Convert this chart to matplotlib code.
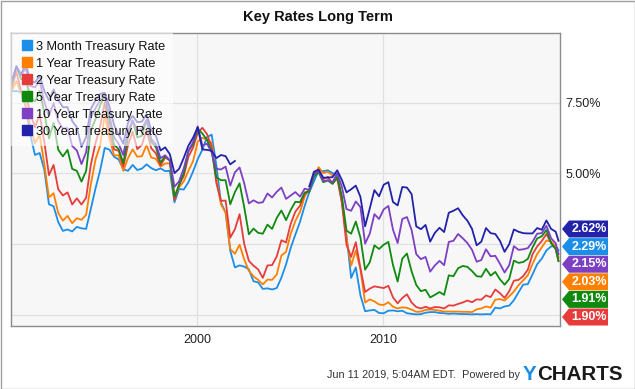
import matplotlib
matplotlib.use("Agg")
import matplotlib.pyplot as plt
from matplotlib.lines import Line2D
from matplotlib.patches import Polygon, Rectangle
from matplotlib.transforms import IdentityTransform
import numpy as np

plt.rcParams['font.family'] = ['Liberation Sans', 'DejaVu Sans']

# ---------------- data (quarterly readings, Jan/Apr/Jul/Oct, plus Jun 2019) ----------------
years = list(range(1990, 2019))
dates = [y + q for y in years for q in (0.04, 0.29, 0.54, 0.79)] + [2019.04, 2019.29, 2019.44]

nan = float('nan')

t3m = [7.90, 7.91, 7.87, 7.36, 6.36, 5.65, 5.72, 5.14, 3.91, 3.84, 3.28, 2.97,
       3.02, 2.95, 3.11, 3.06, 3.04, 3.74, 4.46, 5.10, 5.90, 5.84, 5.59, 5.49,
       5.15, 5.09, 5.30, 5.12, 5.17, 5.32, 5.19, 5.11, 5.18, 5.08, 5.09, 3.98,
       4.45, 4.43, 4.69, 5.07, 5.50, 5.84, 6.28, 6.37, 5.29, 3.97, 3.62, 2.27,
       1.68, 1.75, 1.71, 1.61, 1.19, 1.15, 0.92, 0.94, 0.90, 0.95, 1.32, 1.79,
       2.37, 2.84, 3.29, 3.85, 4.34, 4.72, 5.09, 5.08, 5.11, 5.01, 4.96, 3.99,
       2.82, 1.31, 1.68, 0.69, 0.13, 0.16, 0.18, 0.07, 0.06, 0.15, 0.16, 0.13,
       0.15, 0.06, 0.04, 0.02, 0.03, 0.08, 0.10, 0.10, 0.07, 0.06, 0.04, 0.05,
       0.04, 0.03, 0.03, 0.02, 0.03, 0.02, 0.03, 0.02, 0.26, 0.23, 0.30, 0.33,
       0.52, 0.80, 1.07, 1.09, 1.43, 1.79, 1.99, 2.28, 2.42, 2.43, 2.29]

t1y = [7.92, 8.26, 7.88, 7.40, 6.64, 6.07, 6.36, 5.33, 4.15, 4.30, 3.60, 3.33,
       3.50, 3.24, 3.42, 3.36, 3.54, 4.60, 5.48, 5.98, 7.05, 6.24, 5.64, 5.64,
       5.09, 5.54, 5.85, 5.59, 5.61, 6.00, 5.56, 5.52, 5.24, 5.35, 5.36, 4.18,
       4.51, 4.72, 5.09, 5.43, 6.12, 6.26, 6.18, 6.08, 4.81, 3.90, 3.62, 2.33,
       2.16, 2.48, 1.96, 1.56, 1.36, 1.24, 1.08, 1.25, 1.24, 1.43, 2.10, 2.23,
       2.86, 3.32, 3.64, 4.18, 4.45, 4.90, 5.22, 5.01, 5.06, 4.93, 4.96, 4.10,
       2.71, 1.74, 2.28, 1.61, 0.44, 0.55, 0.48, 0.37, 0.35, 0.45, 0.29, 0.23,
       0.27, 0.25, 0.19, 0.11, 0.12, 0.18, 0.19, 0.18, 0.15, 0.12, 0.12, 0.12,
       0.12, 0.11, 0.11, 0.10, 0.20, 0.23, 0.30, 0.26, 0.54, 0.56, 0.51, 0.66,
       0.83, 1.05, 1.22, 1.40, 1.80, 2.15, 2.39, 2.63, 2.60, 2.42, 2.03]

t2y = [8.02, 8.59, 7.91, 7.77, 7.13, 6.63, 7.09, 6.12, 4.94, 5.30, 4.44, 4.22,
       4.33, 3.90, 4.12, 3.90, 4.14, 5.30, 6.06, 6.64, 7.51, 6.48, 5.85, 5.80,
       5.24, 6.00, 6.47, 5.86, 6.01, 6.54, 5.89, 5.71, 5.28, 5.56, 5.46, 4.05,
       4.60, 4.91, 5.59, 5.91, 6.44, 6.61, 6.39, 5.93, 4.66, 4.03, 4.04, 2.73,
       3.03, 3.56, 2.51, 1.91, 1.74, 1.61, 1.31, 1.75, 1.76, 2.07, 2.64, 2.56,
       3.22, 3.65, 3.86, 4.27, 4.42, 4.89, 5.12, 4.80, 4.88, 4.64, 4.82, 3.97,
       2.48, 2.05, 2.57, 1.65, 0.81, 0.93, 1.01, 0.98, 0.95, 1.03, 0.62, 0.41,
       0.60, 0.73, 0.44, 0.28, 0.23, 0.29, 0.23, 0.28, 0.27, 0.23, 0.34, 0.33,
       0.39, 0.44, 0.51, 0.45, 0.55, 0.54, 0.69, 0.63, 0.90, 0.77, 0.60, 0.84,
       1.21, 1.24, 1.37, 1.60, 2.14, 2.42, 2.61, 2.86, 2.54, 2.33, 1.90]

t5y = [8.12, 8.79, 8.33, 8.33, 7.70, 7.54, 7.91, 7.14, 6.24, 6.78, 5.84, 5.60,
       5.83, 5.16, 5.09, 4.71, 5.09, 6.52, 6.91, 7.40, 7.76, 6.89, 6.01, 5.86,
       5.36, 6.30, 6.87, 6.27, 6.33, 6.89, 6.12, 5.93, 5.38, 5.61, 5.46, 4.18,
       4.60, 5.00, 5.79, 6.03, 6.58, 6.41, 6.18, 5.78, 4.86, 4.76, 4.76, 3.91,
       4.34, 4.65, 3.81, 2.85, 3.05, 2.90, 2.87, 3.19, 3.04, 3.43, 3.69, 3.35,
       3.71, 4.00, 3.98, 4.33, 4.35, 4.90, 5.04, 4.69, 4.75, 4.63, 4.88, 4.20,
       2.98, 2.87, 3.30, 2.73, 1.60, 1.86, 2.46, 2.33, 2.48, 2.58, 1.76, 1.18,
       1.99, 2.17, 1.54, 1.06, 0.84, 0.89, 0.62, 0.71, 0.81, 0.71, 1.40, 1.37,
       1.65, 1.73, 1.70, 1.55, 1.37, 1.35, 1.63, 1.39, 1.52, 1.26, 1.07, 1.27,
       1.92, 1.84, 1.87, 1.98, 2.38, 2.70, 2.78, 3.00, 2.54, 2.33, 1.91]

t10y = [8.21, 8.79, 8.47, 8.72, 8.09, 8.04, 8.27, 7.53, 7.03, 7.48, 6.84, 6.59,
        6.60, 5.97, 5.81, 5.33, 5.75, 6.97, 7.30, 7.58, 7.78, 7.06, 6.28, 6.04,
        5.65, 6.51, 6.87, 6.53, 6.58, 6.89, 6.22, 6.03, 5.54, 5.64, 5.46, 4.53,
        4.72, 5.18, 5.79, 6.11, 6.66, 5.99, 6.05, 5.74, 5.16, 5.14, 5.24, 4.57,
        5.04, 5.21, 4.65, 3.94, 4.05, 3.96, 3.98, 4.29, 4.15, 4.35, 4.50, 4.10,
        4.22, 4.34, 4.18, 4.46, 4.42, 4.99, 5.09, 4.73, 4.76, 4.69, 5.00, 4.53,
        3.74, 3.68, 4.01, 3.81, 2.52, 2.87, 3.56, 3.39, 3.73, 3.85, 3.01, 2.54,
        3.39, 3.46, 3.00, 2.15, 1.97, 2.05, 1.53, 1.75, 1.91, 1.76, 2.58, 2.62,
        2.86, 2.71, 2.54, 2.30, 1.88, 1.94, 2.32, 2.07, 2.09, 1.81, 1.50, 1.76,
        2.43, 2.30, 2.32, 2.36, 2.58, 2.87, 2.89, 3.15, 2.71, 2.53, 2.15]

t30y = [8.26, 8.76, 8.50, 8.86, 8.27, 8.21, 8.45, 7.91, 7.58, 7.96, 7.60, 7.34,
        7.34, 6.85, 6.63, 5.94, 6.29, 7.27, 7.58, 7.81, 7.85, 7.37, 6.72, 6.37,
        6.05, 6.79, 7.03, 6.81, 6.83, 7.09, 6.53, 6.33, 5.81, 5.92, 5.68, 5.01,
        5.16, 5.55, 5.98, 6.26, 6.63, 5.85, 5.83, 5.80, 5.54, 5.65, 5.61, 5.32,
        5.44, nan, nan, nan, nan, nan, nan, nan, nan, nan, nan, nan,
        nan, nan, nan, nan, 4.54, 5.06, 5.13, 4.85, 4.85, 4.87, 5.11, 4.77,
        4.33, 4.44, 4.57, 4.17, 3.13, 3.76, 4.41, 4.19, 4.60, 4.69, 3.99, 3.87,
        4.52, 4.50, 4.27, 3.13, 3.03, 3.18, 2.59, 2.90, 3.08, 2.93, 3.61, 3.68,
        3.77, 3.52, 3.33, 3.04, 2.46, 2.59, 3.07, 2.89, 2.86, 2.62, 2.23, 2.50,
        3.02, 2.94, 2.89, 2.88, 2.88, 3.07, 3.01, 3.34, 3.04, 2.94, 2.62]

labels = ["3 Month Treasury Rate", "1 Year Treasury Rate", "2 Year Treasury Rate",
          "5 Year Treasury Rate", "10 Year Treasury Rate", "30 Year Treasury Rate"]
series = [t3m, t1y, t2y, t5y, t10y, t30y]
colors = ["#1a8ee8", "#ff8000", "#e63c3c", "#0f8a0f", "#7d3fc4", "#2222aa"]

xticks = [1990, 2000, 2010]
xticklabels = ["", "2000", "2010"]
yticks = [0, 2.5, 5, 7.5]
yticklabels = ["", "", "5.00%", "7.50%"]

# ---------------- figure ----------------
W, H = 635, 389
fig = plt.figure(figsize=(W / 100, H / 100), dpi=100)
fig.patch.set_facecolor("white")
ax = fig.add_axes([11 / W, 1 - 326 / H, 549 / W, 293 / H])
ax.set_facecolor("#f7f7f7")

for vals, c in zip(series, colors):
    ax.plot(dates, vals, color=c, lw=1.3, solid_joinstyle="round")

ax.set_xlim(1990.0, 2019.52)
ax.set_ylim(-0.39, 9.96)
ax.set_xticks(xticks)
ax.set_xticklabels(xticklabels)
ax.set_yticks(yticks)
ax.set_yticklabels(yticklabels)
ax.yaxis.tick_right()
ax.tick_params(axis="both", length=0, labelsize=9, colors="#222222")
ax.tick_params(axis="x", pad=6)
ax.tick_params(axis="y", pad=4)
ax.grid(True, color="#e0e0e0", lw=0.9)
ax.set_axisbelow(True)
for s in ax.spines.values():
    s.set_color("#8c8c8c")
    s.set_linewidth(1.0)

# legend
handles = [Line2D([], [], marker="s", color=c, linestyle="none", markersize=7.3) for c in colors]
leg = ax.legend(handles, labels, loc="upper left", bbox_to_anchor=(0, 1), frameon=True,
                fancybox=False, framealpha=0.6, facecolor="white", edgecolor="none",
                fontsize=9.2, handlelength=1.2, handletextpad=0.15, labelspacing=0.39,
                borderpad=0.62, borderaxespad=0)
for t in leg.get_texts():
    t.set_color("#111111")

# title
fig.text(0.5, 1 - 17 / H, "Key Rates Long Term", ha="center", va="center",
         fontsize=10.5, fontweight="bold", color="#111111")

# ---------------- end-value tags ----------------
last = [(v[-1], c) for v, c in zip(series, colors)]
last.sort(key=lambda p: -p[0])
x_right = ax.transAxes.transform((1, 0))[0]
y_bottom = ax.transAxes.transform((0, 0))[1]
tag_h = 17.0
gap = 17.6
pos = []
for i, (v, c) in enumerate(last):
    yd = ax.transData.transform((0, v))[1]
    if pos:
        yd = min(yd, pos[-1] - gap)
    pos.append(yd)
lo = y_bottom + tag_h / 2 + 0.5
n = len(pos)
for i in range(n):
    pos[i] = max(pos[i], lo + (n - 1 - i) * gap)

for (v, c), yc in zip(last, pos):
    x0 = x_right + 2
    verts = [(x0, yc), (x0 + 7, yc + tag_h / 2), (x0 + 46, yc + tag_h / 2),
             (x0 + 46, yc - tag_h / 2), (x0 + 7, yc - tag_h / 2)]
    fig.patches.append(Polygon(verts, closed=True, facecolor=c, edgecolor="none",
                               transform=IdentityTransform(), figure=fig))
    fig.text((x0 + 27) / W, yc / H, f"{v:.2f}%", ha="center", va="center",
             fontsize=9, fontweight="bold", color="white")

# ---------------- footer ----------------
fig.text(520 / W, 1 - 375 / H, "Jun 11 2019, 5:04AM EDT.  Powered by", ha="right",
         va="center", fontsize=7.8, color="#333333")
fig.text(523 / W, 1 - 380 / H, "Y", ha="left", va="baseline", fontsize=14.8,
         fontweight="bold", color="#1a8ee8")
fig.text(537 / W, 1 - 380 / H, "CHARTS", ha="left", va="baseline", fontsize=14.8,
         fontweight="bold", color="#1a1a1a")

# outer frame
fig.patches.append(Rectangle((0.5, 0.5), W - 1, H - 1, fill=False, edgecolor="#a0a0a0",
                             lw=1, transform=IdentityTransform(), figure=fig))

fig.savefig("out.png", dpi=100)
